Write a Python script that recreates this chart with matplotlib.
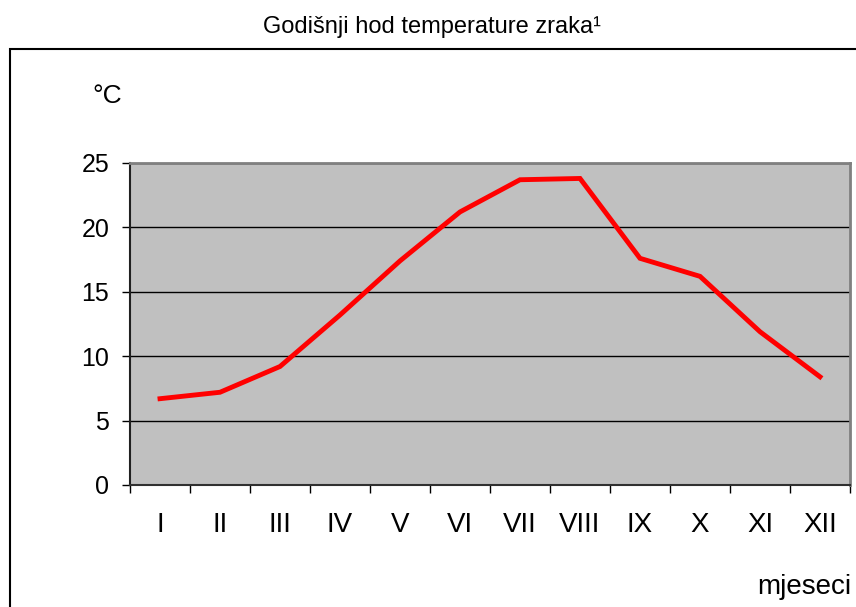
import matplotlib
matplotlib.use("Agg")
import matplotlib.pyplot as plt
from matplotlib.patches import Rectangle

months = ["I", "II", "III", "IV", "V", "VI", "VII", "VIII", "IX", "X", "XI", "XII"]
temps = [6.7, 7.2, 9.2, 13.2, 17.4, 21.2, 23.7, 23.8, 17.6, 16.2, 11.9, 8.4]
yticks = [0, 5, 10, 15, 20, 25]

plt.rcParams['font.family'] = ['Liberation Sans', 'DejaVu Sans']

W, H = 856, 607
fig = plt.figure(figsize=(W / 100, H / 100), dpi=100)

# outer frame of the chart, cut off at right and bottom
fig.patches.append(Rectangle((10 / W, -0.05), 1.0, 1 - 49 / H + 0.05,
                             transform=fig.transFigure, fill=False,
                             edgecolor='black', linewidth=1.5))

fig.text(432 / W, 1 - 33 / H, "Godišnji hod temperature zraka¹",
         ha='center', va='baseline', fontsize=17)

ax = fig.add_axes([130 / W, 1 - 485 / H, 720 / W, 322 / H])
ax.set_facecolor('#C0C0C0')

x = list(range(1, len(months) + 1))
ax.plot(x, temps, color='#FF0000', linewidth=3.5, solid_joinstyle='miter')

ax.set_xlim(0.5, 12.5)
ax.set_ylim(0, 25)
ax.set_yticks(yticks)
ax.set_yticklabels([str(v) for v in yticks], fontsize=18)
ax.yaxis.grid(True, color='black', linewidth=1)
ax.set_axisbelow(True)

# ticks at category boundaries, labels at centres
ax.set_xticks([i + 0.5 for i in range(0, 13)])
ax.set_xticklabels([])
ax.set_xticks(x, minor=True)
ax.set_xticklabels(months, minor=True, fontsize=20)
ax.tick_params(axis='x', which='minor', length=0, pad=19.5)
ax.tick_params(axis='x', which='major', length=6, width=1, direction='out')
ax.tick_params(axis='y', length=6, width=1, direction='out', pad=9)

for s in ['top', 'right']:
    ax.spines[s].set_color('#808080')
    ax.spines[s].set_linewidth(2)
ax.spines['left'].set_color('#202020')
ax.spines['bottom'].set_color('#303030')
ax.spines['left'].set_linewidth(1.5)
ax.spines['bottom'].set_linewidth(1.5)

fig.text(92 / W, 1 - 103 / H, "°C", ha='left', va='baseline', fontsize=19)
fig.text(851 / W, 1 - 594 / H, "mjeseci", ha='right', va='baseline',
         fontsize=20)

fig.savefig("out.png", dpi=100)
